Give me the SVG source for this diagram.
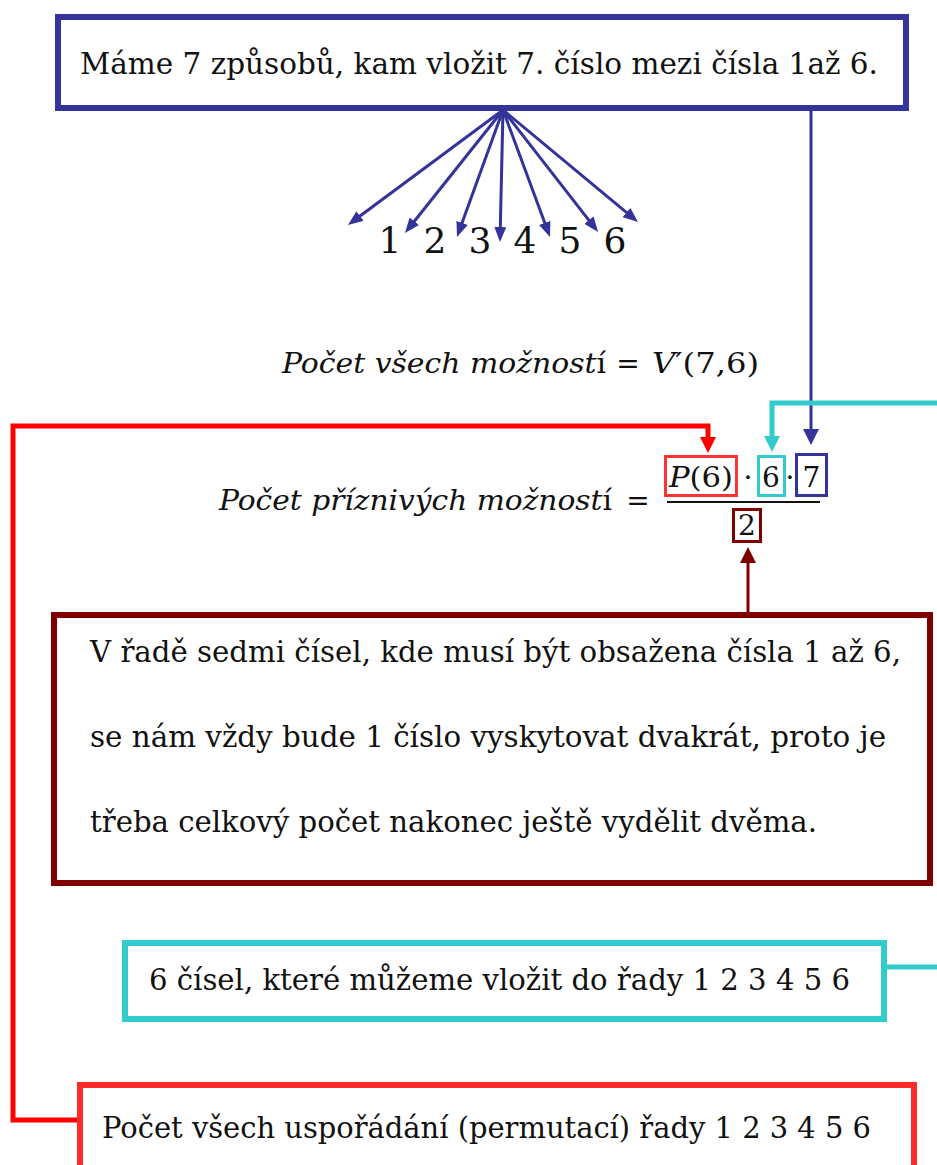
<svg xmlns="http://www.w3.org/2000/svg" width="937" height="1165" viewBox="0 0 937 1165">
<style>
.box{fill:#ffffff;stroke-width:6}
.t{font-family:"DejaVu Serif","Liberation Serif",serif;font-size:30px;fill:#111}
.m{font-family:"DejaVu Serif","Liberation Serif",serif;font-size:28px;fill:#111}
.it{font-style:italic}
.up{font-style:normal}
.fan{stroke:#333399;stroke-width:3;fill:none}
.conn{fill:none}
</style>
<defs>
<marker id="ab" viewBox="0 0 15 12" refX="5" refY="6" markerWidth="15" markerHeight="12" markerUnits="userSpaceOnUse" orient="auto"><path d="M0,0 L15,6 L0,12 z" fill="#333399"/></marker>
<marker id="ab2" viewBox="0 0 16 16" refX="4" refY="8" markerWidth="16" markerHeight="16" markerUnits="userSpaceOnUse" orient="auto"><path d="M0,0 L16,8 L0,16 z" fill="#333399"/></marker>
<marker id="ar" viewBox="0 0 16 16" refX="4" refY="8" markerWidth="16" markerHeight="16" markerUnits="userSpaceOnUse" orient="auto"><path d="M0,0 L16,8 L0,16 z" fill="#ff0000"/></marker>
<marker id="ac" viewBox="0 0 16 16" refX="4" refY="8" markerWidth="16" markerHeight="16" markerUnits="userSpaceOnUse" orient="auto"><path d="M0,0 L16,8 L0,16 z" fill="#33cccc"/></marker>
<marker id="am" viewBox="0 0 16 16" refX="4" refY="8" markerWidth="16" markerHeight="16" markerUnits="userSpaceOnUse" orient="auto"><path d="M0,0 L16,8 L0,16 z" fill="#800000"/></marker>
</defs>
<rect width="937" height="1165" fill="#ffffff"/>

<g id="connectors">
<line class="fan" x1="503" y1="110" x2="356" y2="219" marker-end="url(#ab)"/>
<line class="fan" x1="503" y1="110" x2="411.2" y2="225.2" marker-end="url(#ab)"/>
<line class="fan" x1="503" y1="110" x2="460.4" y2="227.6" marker-end="url(#ab)"/>
<line class="fan" x1="503" y1="110" x2="500.2" y2="232" marker-end="url(#ab)"/>
<line class="fan" x1="503" y1="110" x2="546.5" y2="227.6" marker-end="url(#ab)"/>
<line class="fan" x1="503" y1="110" x2="591.9" y2="224.1" marker-end="url(#ab)"/>
<line class="fan" x1="503" y1="110" x2="630.3" y2="215.6" marker-end="url(#ab)"/>
<path class="conn" d="M811,111 V433" stroke="#333399" stroke-width="3" marker-end="url(#ab2)"/>
<path class="conn" d="M80,1120 H13 V426 H708 V441" stroke="#ff0000" stroke-width="5" marker-end="url(#ar)"/>
<path class="conn" d="M887,967 H950 V403 H772 V440" stroke="#33cccc" stroke-width="5" marker-end="url(#ac)"/>
<path class="conn" d="M748,612 V559" stroke="#800000" stroke-width="3" marker-end="url(#am)"/>
</g>

<g id="node-top">
<rect class="box" x="58" y="17" width="848" height="91" stroke="#333399"/>
<text class="t" x="80" y="74" textLength="798" lengthAdjust="spacingAndGlyphs">Máme 7 způsobů, kam vložit 7. číslo mezi čísla 1až 6.</text>
</g>

<g id="node-numbers">
<text class="t" style="font-size:36px" x="378.5 401 423.5 446 468.5 491 513.5 536 558.5 581 603.5" y="253">1 2 3 4 5 6</text>
</g>

<g id="node-formula-all">
<text class="m it" x="282" y="373" textLength="324" lengthAdjust="spacingAndGlyphs">Počet všech možnost<tspan class="up">í</tspan></text>
<text class="m" x="628" y="373" text-anchor="middle">=</text>
<text class="m" x="652" y="373" textLength="107" lengthAdjust="spacingAndGlyphs"><tspan class="it">V</tspan>′(7,6)</text>
</g>

<g id="node-formula-fav">
<text class="m it" x="219" y="510" textLength="393" lengthAdjust="spacingAndGlyphs">Počet příznivých možnost<tspan class="up">í</tspan></text>
<text class="m" x="638" y="510" text-anchor="middle">=</text>
<line x1="667" y1="502" x2="820" y2="502" stroke="#111" stroke-width="2"/>
<text class="m" x="748" y="487" text-anchor="middle">·</text>
<text class="m" x="790" y="487" text-anchor="middle">·</text>
</g>

<g id="node-p6">
<rect x="665.5" y="456.5" width="71" height="39" fill="none" stroke="#ff3333" stroke-width="3"/>
<text class="m" x="669" y="487" textLength="64" lengthAdjust="spacingAndGlyphs"><tspan class="it">P</tspan>(6)</text>
</g>

<g id="node-six">
<rect x="758.5" y="456.5" width="26" height="39" fill="none" stroke="#33cccc" stroke-width="3"/>
<text class="m" x="771" y="487" text-anchor="middle">6</text>
</g>

<g id="node-seven">
<rect x="796.5" y="454.5" width="30" height="41" fill="none" stroke="#333399" stroke-width="3"/>
<text class="m" x="811.5" y="487" text-anchor="middle">7</text>
</g>

<g id="node-two">
<rect x="733.5" y="509.5" width="27" height="32" fill="none" stroke="#800000" stroke-width="3"/>
<text class="m" x="747" y="535" text-anchor="middle">2</text>
</g>

<g id="node-maroon">
<rect class="box" x="54" y="615" width="876" height="268" stroke="#800000"/>
<text class="t" x="90" y="662" textLength="811" lengthAdjust="spacingAndGlyphs">V řadě sedmi čísel, kde musí být obsažena čísla 1 až 6,</text>
<text class="t" x="90" y="747" textLength="796" lengthAdjust="spacingAndGlyphs">se nám vždy bude 1 číslo vyskytovat dvakrát, proto je</text>
<text class="t" x="90" y="832" textLength="727" lengthAdjust="spacingAndGlyphs">třeba celkový počet nakonec ještě vydělit dvěma.</text>
</g>

<g id="node-cyan">
<rect class="box" x="125" y="943" width="759" height="76" stroke="#33cccc"/>
<text class="t" x="149" y="990" textLength="701" lengthAdjust="spacingAndGlyphs">6 čísel, které můžeme vložit do řady 1 2 3 4 5 6</text>
</g>

<g id="node-red">
<rect class="box" x="80" y="1085" width="834" height="120" stroke="#ff2a2a"/>
<text class="t" x="102" y="1138" textLength="769" lengthAdjust="spacingAndGlyphs">Počet všech uspořádání (permutací) řady 1 2 3 4 5 6</text>
</g>
</svg>
